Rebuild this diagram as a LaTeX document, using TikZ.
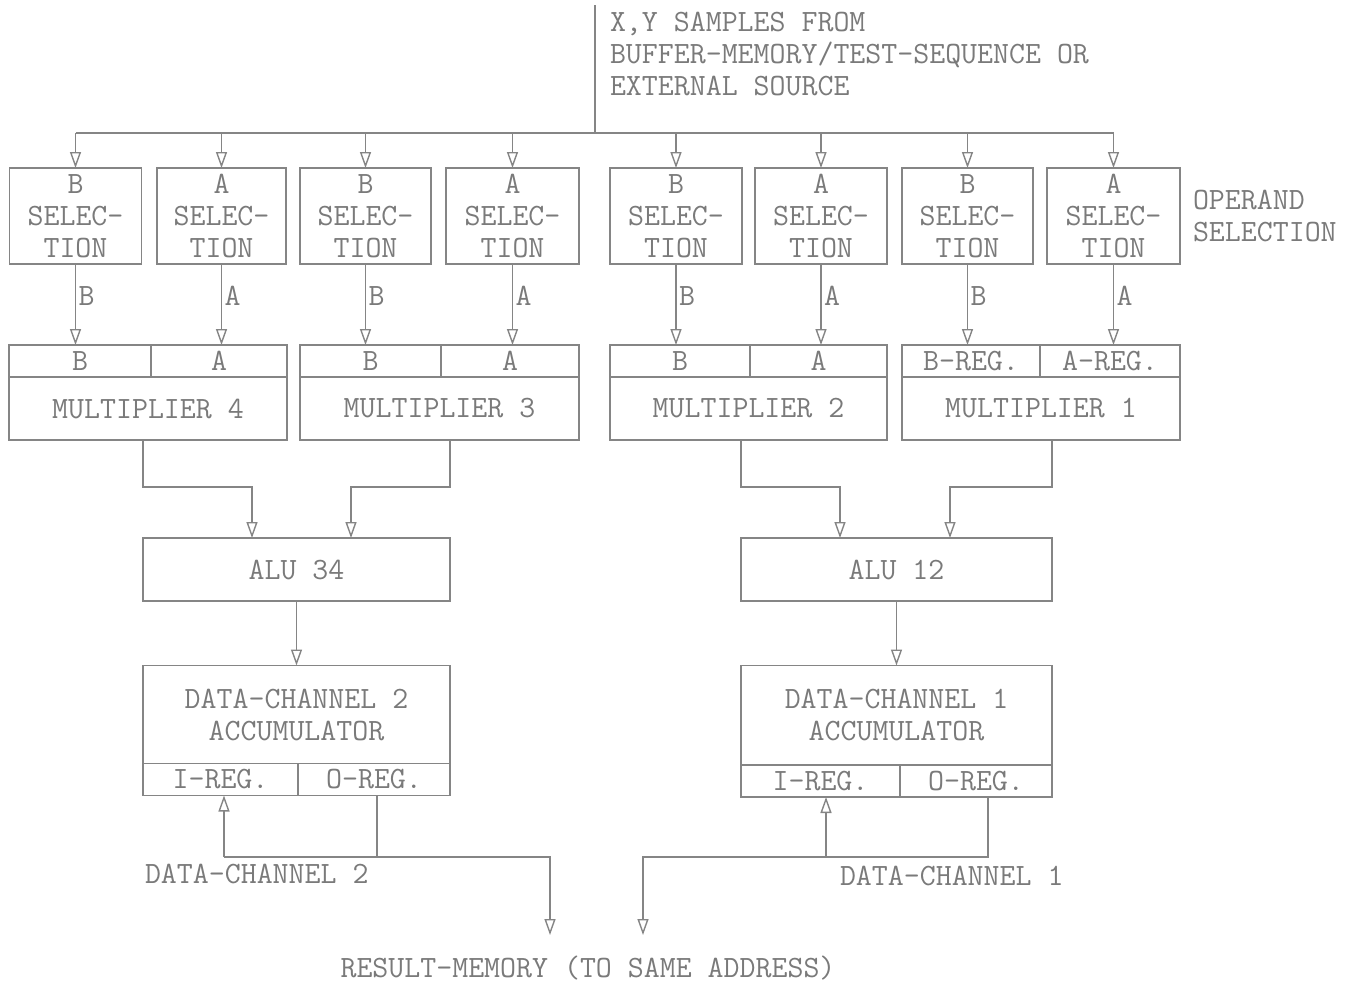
\documentclass[tikz,border=0pt]{standalone}
\usepackage{fontspec}
\usetikzlibrary{arrows.meta}
\definecolor{linec}{gray}{0.52}
\definecolor{textc}{gray}{0.48}
\begin{document}
\begin{tikzpicture}[x=1pt,y=-1pt,
  line width=1.5pt, draw=linec,
  every node/.style={text=textc, font=\ttfamily\fontsize{31}{32}\selectfont, inner sep=0pt, outer sep=0pt},
  blk/.style={draw=linec, line width=1.5pt, rectangle, align=center},
  selbox/.style={blk, minimum width=132pt, minimum height=96pt},
  regbox/.style={blk, minimum height=32pt},
  arr/.style={draw=linec, -{Triangle[open, length=16pt, width=11pt, line width=1.4pt]}},
  lab/.style={anchor=west, xshift=3pt, yshift=8.5pt}
]
\useasboundingbox (0,0) rectangle (1357,983);

% source
\coordinate (src) at (595,5);
\coordinate (bus) at (595,133);
\node[anchor=north west, align=left] (srctext) at (610,12)
  {X,Y SAMPLES FROM\\BUFFER-MEMORY/TEST-SEQUENCE OR\\EXTERNAL SOURCE};
\draw (src) -- (bus);

% selection boxes
\node[selbox] (s1) at (75.5,216) {B\\SELEC-\\TION};
\node[selbox, minimum width=129pt] (s2) at (221.5,216) {A\\SELEC-\\TION};
\node[selbox, minimum width=131pt] (s3) at (365.5,216) {B\\SELEC-\\TION};
\node[selbox, minimum width=133pt] (s4) at (512.5,216) {A\\SELEC-\\TION};
\node[selbox] (s5) at (676,216) {B\\SELEC-\\TION};
\node[selbox] (s6) at (821,216) {A\\SELEC-\\TION};
\node[selbox, minimum width=131pt] (s7) at (967.5,216) {B\\SELEC-\\TION};
\node[selbox, minimum width=133pt] (s8) at (1113.5,216) {A\\SELEC-\\TION};
\node[anchor=west, align=left] (opsel) at (1193,216) {OPERAND\\SELECTION};

\draw (s1.north |- bus) -- (s8.north |- bus);
\foreach \s in {s1,s2,s3,s4,s5,s6,s7,s8}
  \draw[arr] (\s.north |- bus) -- (\s.north);

% multipliers
\node[regbox, minimum width=142pt] (m4b) at (80,361) {B};
\node[regbox, minimum width=136pt] (m4a) at (219,361) {A};
\node[blk, minimum width=278pt, minimum height=63pt] (m4) at (148,408.5) {MULTIPLIER 4};
\node[regbox, minimum width=141pt] (m3b) at (370.5,361) {B};
\node[regbox, minimum width=138pt] (m3a) at (510,361) {A};
\node[blk, minimum width=279pt, minimum height=63pt] (m3) at (439.5,408.5) {MULTIPLIER 3};
\node[regbox, minimum width=140pt] (m2b) at (680,361) {B};
\node[regbox, minimum width=137pt] (m2a) at (818.5,361) {A};
\node[blk, minimum width=277pt, minimum height=63pt] (m2) at (748.5,408.5) {MULTIPLIER 2};
\node[regbox, minimum width=138pt] (m1b) at (971,361) {B-REG.};
\node[regbox, minimum width=140pt] (m1a) at (1110,361) {A-REG.};
\node[blk, minimum width=278pt, minimum height=63pt] (m1) at (1041,408.5) {MULTIPLIER 1};

\draw[arr] (s1.south) -- node[lab]{B} (s1.south |- m4b.north);
\draw[arr] (s2.south) -- node[lab]{A} (s2.south |- m4a.north);
\draw[arr] (s3.south) -- node[lab]{B} (s3.south |- m3b.north);
\draw[arr] (s4.south) -- node[lab]{A} (s4.south |- m3a.north);
\draw[arr] (s5.south) -- node[lab]{B} (s5.south |- m2b.north);
\draw[arr] (s6.south) -- node[lab]{A} (s6.south |- m2a.north);
\draw[arr] (s7.south) -- node[lab]{B} (s7.south |- m1b.north);
\draw[arr] (s8.south) -- node[lab]{A} (s8.south |- m1a.north);

% ALUs
\node[blk, minimum width=307pt, minimum height=63pt] (alu34) at (296.5,569.5) {ALU 34};
\node[blk, minimum width=311pt, minimum height=63pt] (alu12) at (896.5,569.5) {ALU 12};

\coordinate (elb) at (0,487);
\draw[arr] (m4.south -| alu34.west) -- (alu34.west |- elb) -| ([xshift=-44.5pt]alu34.north);
\draw[arr] (m3.south -| alu34.east) -- (alu34.east |- elb) -| ([xshift=54.5pt]alu34.north);
\draw[arr] (m2.south -| alu12.west) -- (alu12.west |- elb) -| ([xshift=-56.5pt]alu12.north);
\draw[arr] (m1.south -| alu12.east) -- (alu12.east |- elb) -| ([xshift=53.5pt]alu12.north);

% accumulators
\node[blk, minimum width=307pt, minimum height=98pt] (acc2) at (296.5,714.5) {DATA-CHANNEL 2\\ACCUMULATOR};
\node[regbox, minimum width=155pt] (ireg2) at (220.5,779.5) {I-REG.};
\node[regbox, minimum width=152pt] (oreg2) at (374,779.5) {O-REG.};
\node[blk, minimum width=311pt, minimum height=99pt] (acc1) at (896.5,715) {DATA-CHANNEL 1\\ACCUMULATOR};
\node[regbox, minimum width=159pt] (ireg1) at (820.5,781) {I-REG.};
\node[regbox, minimum width=152pt] (oreg1) at (976,781) {O-REG.};

\draw[arr] (alu34.south) -- (acc2.north);
\draw[arr] (alu12.south) -- (acc1.north);

% data channels and result memory
\coordinate (j2) at (224,857);
\coordinate (j1) at (826,857);
\coordinate (r2) at (550,935);
\coordinate (r1) at (643,935);
\draw[arr] (j2) -- (j2 |- ireg2.south);
\draw (j2) -- ([xshift=3pt]oreg2.south |- j2);
\draw[arr] ([xshift=3pt]oreg2.south) |- (r2 |- j2) -- (r2);
\draw[arr] (j1) -- (j1 |- ireg1.south);
\draw[arr] ([xshift=12pt]oreg1.south) |- (r1 |- j1) -- (r1);

\node[anchor=west] (dc2) at (145,874) {DATA-CHANNEL 2};
\node[anchor=west] (dc1) at (840,876) {DATA-CHANNEL 1};
\node (res) at (588,968) {RESULT-MEMORY (TO SAME ADDRESS)};
\end{tikzpicture}
\end{document}
